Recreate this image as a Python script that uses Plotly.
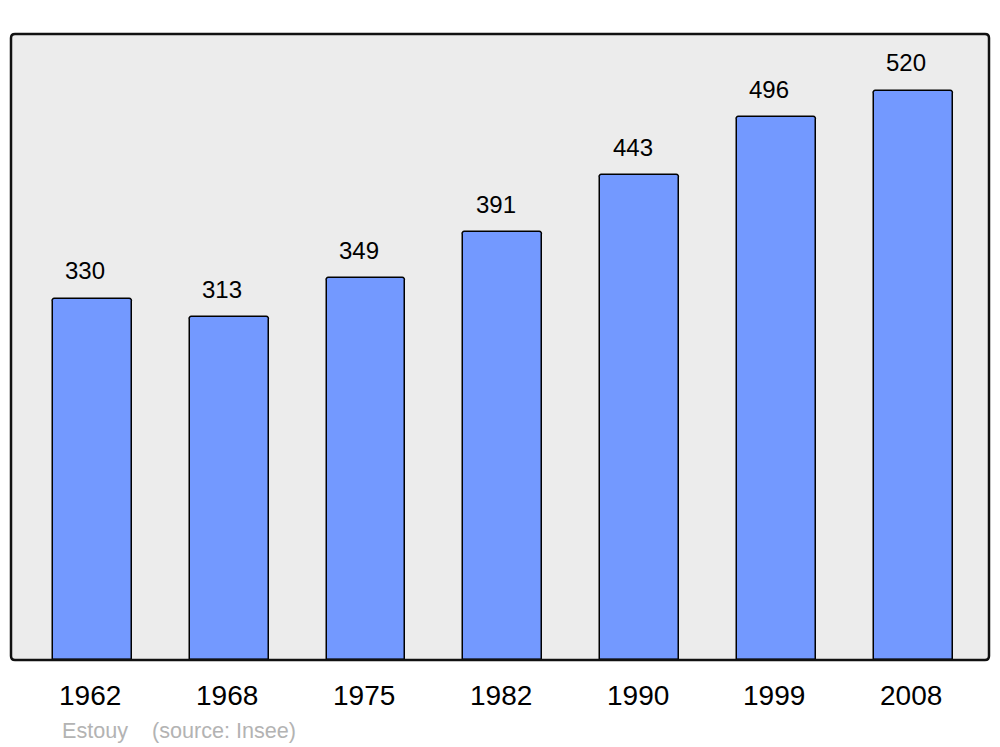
import plotly.graph_objects as go

years = ["1962", "1968", "1975", "1982", "1990", "1999", "2008"]
population = [330, 313, 349, 391, 443, 496, 520]
footer_place = "Estouy"
footer_source = "(source: Insee)"

W, H = 1000, 747
ml, mr, mt, mb = 11, 11, 34, 87
xpos = list(range(len(years)))

fig = go.Figure()
fig.add_trace(go.Bar(
    x=xpos, y=population, width=0.577,
    marker=dict(color="#7399ff", line=dict(color="black", width=1.5), cornerradius=3),
    hoverinfo="skip", showlegend=False,
))

annotations = []
for i, v in enumerate(population):
    annotations.append(dict(x=i, y=v, xref="x", yref="y", text=str(v), showarrow=False,
                            xshift=-7, yshift=28, yanchor="middle",
                            font=dict(family="Liberation Sans, Arial", size=24, color="black")))
for i, yr in enumerate(years):
    annotations.append(dict(x=i, y=0, xref="x", yref="y", text=yr, showarrow=False,
                            xshift=-2, yshift=-35, yanchor="middle",
                            font=dict(family="Liberation Sans, Arial", size=28, color="black")))
annotations.append(dict(x=49 / 978, y=0, xref="paper", yref="paper",
                        text=footer_place + "\u00a0\u00a0\u00a0\u00a0" + footer_source,
                        showarrow=False, xanchor="left", yanchor="middle", yshift=-70,
                        font=dict(family="Liberation Sans, Arial", size=21.6, color="#b3b3b3")))

rx, ry = 4 / 978, 4 / 626
path = (f"M {rx},0 L {1-rx},0 Q 1,0 1,{ry} L 1,{1-ry} Q 1,1 {1-rx},1 "
        f"L {rx},1 Q 0,1 0,{1-ry} L 0,{ry} Q 0,0 {rx},0 Z")

fig.update_layout(
    width=W, height=H,
    margin=dict(l=ml, r=mr, t=mt, b=mb, pad=0),
    paper_bgcolor="white", plot_bgcolor="#ececec",
    xaxis=dict(range=[-0.595, 6.554], showticklabels=False, showgrid=False, zeroline=False,
               ticks="", fixedrange=True),
    yaxis=dict(range=[0, 572], showticklabels=False, showgrid=False, zeroline=False,
               ticks="", fixedrange=True),
    annotations=annotations,
    shapes=[dict(type="path", path=path, xref="paper", yref="paper",
                 line=dict(color="#111111", width=2.5), layer="above")],
    bargap=0,
)

fig.write_html("out.html", config={"displayModeBar": False},
               post_script="document.body.style.margin='0';document.body.style.overflow='hidden';")
